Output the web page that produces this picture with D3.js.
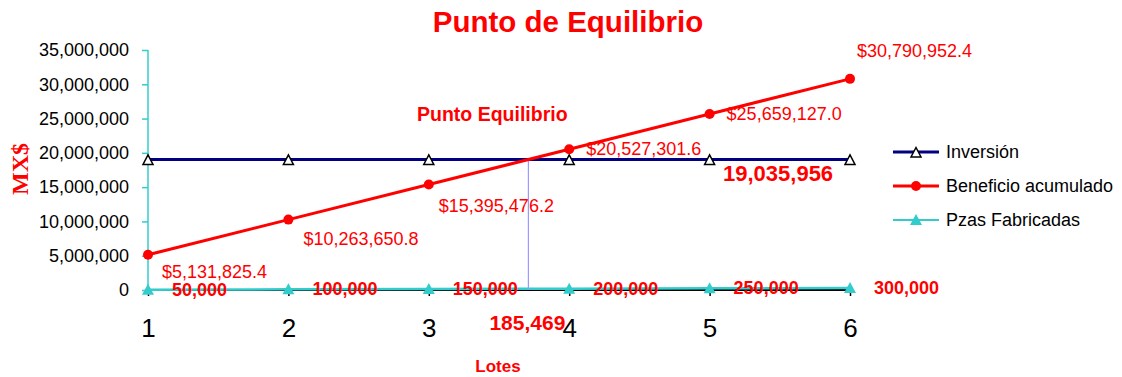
<!DOCTYPE html>
<html>
<head>
<meta charset="utf-8">
<script src="https://cdn.jsdelivr.net/npm/d3@7"></script>
<style>
  html, body { margin: 0; padding: 0; background: #fff; }
  svg { display: block; font-family: "Liberation Sans", Arial, sans-serif; }
</style>
</head>
<body>
<svg id="chart" width="1122" height="377"></svg>
<script>
// Lotes (x categories)
const lotes = [1, 2, 3, 4, 5, 6];
// Inversión total (constant)
const inversion = [19035956, 19035956, 19035956, 19035956, 19035956, 19035956];
// Beneficio acumulado por lote
const beneficio = [5131825.4, 10263650.8, 15395476.2, 20527301.6, 25659127.0, 30790952.4];
// Piezas fabricadas acumuladas
const piezas = [50000, 100000, 150000, 200000, 250000, 300000];
// Y tick values
const yTicks = [0, 5000000, 10000000, 15000000, 20000000, 25000000, 30000000, 35000000];
// Break-even point (lotes, pesos, piezas)
const equilibrioLote = 3.70937;
const equilibrioPesos = 19035956;
const equilibrioPiezas = 185469;

const svg = d3.select("#chart");
const red = "#ff0000";
const navy = "#000080";
const cyan = "#33cccc";
const FONT = "Liberation Sans, Arial, sans-serif";

const x = d3.scaleLinear().domain([1, 6]).range([148, 850]);
const y = d3.scaleLinear().domain([0, 35000000]).range([290, 50]);

const fmtInt = d3.format(",.0f");
const fmtMoney = v => "$" + d3.format(",.1f")(v);

// Title
svg.append("text").attr("x", 568).attr("y", 32).attr("text-anchor", "middle")
  .attr("font-size", 29.5).attr("font-weight", "bold").attr("fill", red)
  .text("Punto de Equilibrio");

// Y axis (turquoise)
const yAxis = svg.append("g").attr("transform", "translate(148,0)")
  .call(d3.axisLeft(y).tickValues(yTicks).tickSize(6).tickPadding(13).tickFormat(d3.format(",")));
yAxis.select(".domain").attr("stroke", cyan).attr("stroke-width", 1.5).attr("d", "M0,50V290");
yAxis.selectAll(".tick line").attr("stroke", cyan).attr("stroke-width", 1.5);
yAxis.selectAll(".tick text").attr("font-size", 18).attr("fill", "#000").attr("font-family", FONT);

// X axis (black)
const xAxis = svg.append("g").attr("transform", "translate(0,290)")
  .call(d3.axisBottom(x).tickValues(lotes).tickSize(6).tickFormat(d3.format("d")));
xAxis.select(".domain").attr("stroke", "#000").attr("stroke-width", 2).attr("d", "M148,0H850");
xAxis.selectAll(".tick line").attr("stroke", "#000").attr("stroke-width", 1.5);
xAxis.selectAll(".tick text").attr("y", 47).attr("dy", null)
  .attr("font-size", 26).attr("fill", "#000").attr("font-family", FONT);

// Axis titles
svg.append("text").attr("transform", "translate(28,169) rotate(-90)")
  .attr("text-anchor", "middle").attr("font-family", "Liberation Serif, Times New Roman, serif")
  .attr("font-size", 24).attr("font-weight", "bold").attr("fill", red).text("MX$");
svg.append("text").attr("x", 498).attr("y", 372).attr("text-anchor", "middle")
  .attr("font-size", 17).attr("font-weight", "bold").attr("fill", red).text("Lotes");

const line = d3.line().x((d, i) => x(lotes[i])).y(d => y(d));

// Pzas Fabricadas line
svg.append("path").datum(piezas).attr("d", line).attr("fill", "none")
  .attr("stroke", cyan).attr("stroke-width", 2.5);

// Break-even vertical guide
svg.append("line").attr("x1", x(equilibrioLote)).attr("x2", x(equilibrioLote))
  .attr("y1", y(equilibrioPesos)).attr("y2", y(0))
  .attr("stroke", "#9999ff").attr("stroke-width", 1.2);

// Inversión line
svg.append("path").datum(inversion).attr("d", line).attr("fill", "none")
  .attr("stroke", navy).attr("stroke-width", 3);

// Beneficio line
svg.append("path").datum(beneficio).attr("d", line).attr("fill", "none")
  .attr("stroke", red).attr("stroke-width", 3);

// Markers
const triPath = "M0,-4.5L5,5L-5,5Z";
svg.selectAll(".inv-mark").data(inversion).join("path").attr("class", "inv-mark")
  .attr("transform", (d, i) => `translate(${x(lotes[i])},${y(d)})`)
  .attr("d", triPath).attr("fill", "#fff").attr("stroke", "#000").attr("stroke-width", 1.5);
svg.selectAll(".ben-mark").data(beneficio).join("circle").attr("class", "ben-mark")
  .attr("cx", (d, i) => x(lotes[i])).attr("cy", d => y(d)).attr("r", 5).attr("fill", red);
svg.selectAll(".pz-mark").data(piezas).join("path").attr("class", "pz-mark")
  .attr("transform", (d, i) => `translate(${x(lotes[i])},${y(d)})`)
  .attr("d", "M0,-6L6,5L-6,5Z").attr("fill", cyan);

// Beneficio value labels
const benOffsets = [[14, 23], [15, 25], [10, 27.5], [17, 6], [17, 6], [7, -22]];
svg.selectAll(".ben-lbl").data(beneficio).join("text").attr("class", "ben-lbl")
  .attr("x", (d, i) => x(lotes[i]) + benOffsets[i][0])
  .attr("y", (d, i) => y(d) + benOffsets[i][1])
  .attr("font-size", 18).attr("fill", red).text(d => fmtMoney(d));

// Piezas value labels
svg.selectAll(".pz-lbl").data(piezas).join("text").attr("class", "pz-lbl")
  .attr("x", (d, i) => x(lotes[i]) + 24).attr("y", d => y(d) + 6)
  .attr("font-size", 18).attr("font-weight", "bold")
  .attr("fill", red).text(d => fmtInt(d));

// Break-even labels
svg.append("text").attr("x", 417).attr("y", 121)
  .attr("font-size", 19.5).attr("font-weight", "bold").attr("fill", red).text("Punto Equilibrio");
svg.append("text").attr("x", x(equilibrioLote) - 1).attr("y", 330).attr("text-anchor", "middle")
  .attr("font-size", 21).attr("font-weight", "bold").attr("fill", red).text(fmtInt(equilibrioPiezas));
svg.append("text").attr("x", 723).attr("y", 181)
  .attr("font-size", 22).attr("font-weight", "bold").attr("fill", red).text(fmtInt(equilibrioPesos));

// Legend
const legend = [
  { name: "Inversión", color: navy, w: 3, mark: "otri" },
  { name: "Beneficio acumulado", color: red, w: 3, mark: "circle" },
  { name: "Pzas Fabricadas", color: cyan, w: 2, mark: "tri" }
];
const lg = svg.selectAll(".lg").data(legend).join("g").attr("class", "lg")
  .attr("transform", (d, i) => `translate(893,${152 + i * 34})`);
lg.append("line").attr("x1", 0).attr("x2", 46).attr("stroke", d => d.color).attr("stroke-width", d => d.w);
lg.each(function(d) {
  const g = d3.select(this);
  if (d.mark === "otri") g.append("path").attr("d", "M23,-4.5L28,5L18,5Z").attr("fill", "#fff").attr("stroke", "#000").attr("stroke-width", 1.5);
  else if (d.mark === "circle") g.append("circle").attr("cx", 23).attr("r", 5).attr("fill", red);
  else g.append("path").attr("d", "M23,-6L29,5L17,5Z").attr("fill", cyan);
});
lg.append("text").attr("x", 53).attr("y", 6).attr("font-size", 18).attr("fill", "#000").text(d => d.name);
</script>
</body>
</html>
